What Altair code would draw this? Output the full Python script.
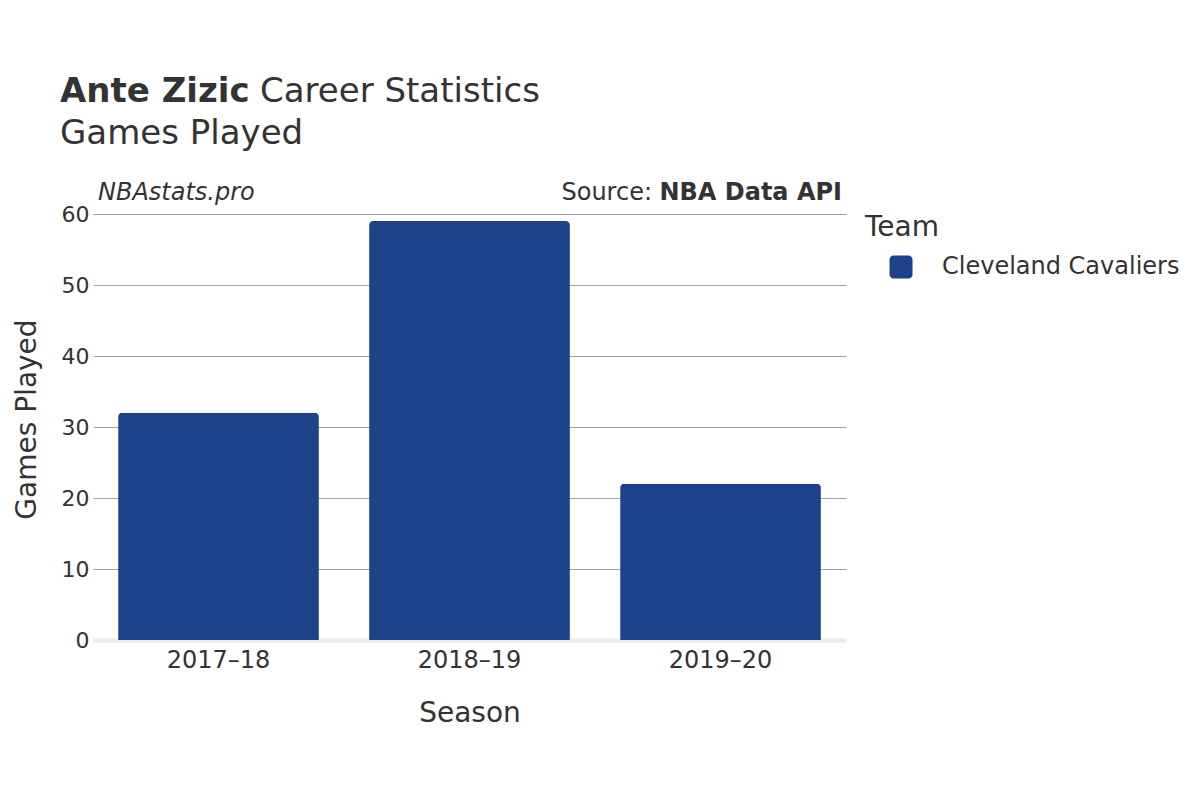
import altair as alt
import pandas as pd

seasons = ["2017–18", "2018–19", "2019–20"]
games_played = [32, 59, 22]
teams = ["Cleveland Cavaliers", "Cleveland Cavaliers", "Cleveland Cavaliers"]
team_colors = ["#1d428a"]

df = pd.DataFrame({"Season": seasons, "Games Played": games_played, "Team": teams})

FONT = "DejaVu Sans"
TXT = "#333333"

# rounded square, shifted right inside the legend slot
r = 0.35
sx = 2.09
sym = (
    f"M{-1+r+sx},-1 L{1-r+sx},-1 A{r},{r} 0 0 1 {1+sx},{-1+r} "
    f"L{1+sx},{1-r} A{r},{r} 0 0 1 {1-r+sx},1 L{-1+r+sx},1 "
    f"A{r},{r} 0 0 1 {-1+sx},{1-r} L{-1+sx},{-1+r} A{r},{r} 0 0 1 {-1+r+sx},-1 Z"
)

bars = alt.Chart(df).mark_bar(cornerRadiusTopLeft=4, cornerRadiusTopRight=4).encode(
    x=alt.X(
        "Season:N",
        sort=seasons,
        scale=alt.Scale(paddingInner=0.2, paddingOuter=0.1),
        axis=alt.Axis(
            title="Season",
            labelAngle=0,
            labelFontSize=24,
            labelColor=TXT,
            labelFont=FONT,
            labelPadding=8,
            ticks=False,
            domain=False,
            titleFontSize=28,
            titleFont=FONT,
            titleFontWeight="normal",
            titleColor=TXT,
            titlePadding=27,
        ),
    ),
    y=alt.Y(
        "Games Played:Q",
        scale=alt.Scale(domain=[0, 60]),
        axis=alt.Axis(
            title="Games Played",
            values=[0, 10, 20, 30, 40, 50, 60],
            labelFontSize=22,
            labelColor=TXT,
            labelFont=FONT,
            labelPadding=4,
            ticks=False,
            domain=False,
            gridColor={"condition": {"test": "datum.value === 0", "value": "#ebebeb"}, "value": "#a0a0a0"},
            gridWidth={"condition": {"test": "datum.value === 0", "value": 4}, "value": 1},
            titleFontSize=28,
            titleFont=FONT,
            titleFontWeight="normal",
            titleColor=TXT,
            titleX=-66,
            titleY=205,
            titleAlign="center",
            titleBaseline="middle",
            titleAngle=270,
        ),
    ),
    color=alt.Color(
        "Team:N",
        scale=alt.Scale(domain=["Cleveland Cavaliers"], range=team_colors),
        legend=alt.Legend(
            title="Team",
            titleFontSize=28,
            titleFont=FONT,
            titleFontWeight="normal",
            titleColor=TXT,
            titlePadding=13,
            labelFontSize=24,
            labelFont=FONT,
            labelColor=TXT,
            labelOffset=53,
            labelLimit=400,
            symbolType=sym,
            symbolSize=529,
            symbolStrokeWidth=0,
            symbolOpacity=1,
            offset=19,
        ),
    ),
)

def label(text, x, y, size, weight="normal", style="normal", align="left"):
    return alt.Chart(pd.DataFrame({"t": [text]})).mark_text(
        font=FONT, fontSize=size, fontWeight=weight, fontStyle=style,
        align=align, baseline="alphabetic", color=TXT,
    ).encode(text="t:N", x=alt.value(x), y=alt.value(y))

title_bold = label("Ante Zizic", -33, -112, 34, weight="bold")
title_reg = label("Career Statistics", 167, -112, 34)
subtitle = label("Games Played", -33, -70, 34)
site = label("NBAstats.pro", 5, -14, 24, style="italic")
src_bold = label("NBA Data API", 749, -14, 24, weight="bold", align="right")
src_reg = label("Source:", 559, -14, 24, align="right")

chart = alt.layer(bars, title_bold, title_reg, subtitle, site, src_bold, src_reg).properties(
    width=753,
    height=426,
    background="white",
    autosize=alt.AutoSizeParams(type="none"),
    padding={"left": 85, "top": 206, "right": 345, "bottom": 150},
).configure_view(stroke="transparent", strokeWidth=0)

chart.save("out.html", embed_options={"renderer": "svg", "actions": False})
